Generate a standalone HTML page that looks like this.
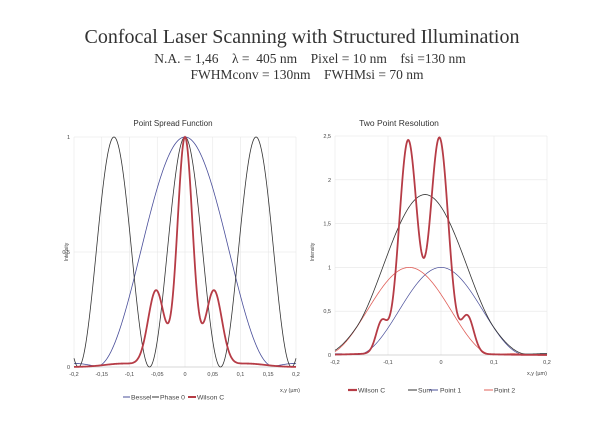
<!DOCTYPE html>
<html><head><meta charset="utf-8"><style>
body{margin:0;background:#fff;width:608px;height:439px;overflow:hidden}
svg{display:block}
</style></head><body>
<svg id="s" width="608" height="439" xmlns="http://www.w3.org/2000/svg" font-family="Liberation Sans, sans-serif">
<text x="302" y="43" text-anchor="middle" font-family="Liberation Serif, serif" font-size="20" fill="#333">Confocal Laser Scanning with Structured Illumination</text>
<text x="310" y="63" text-anchor="middle" font-family="Liberation Serif, serif" font-size="13.5" fill="#333" xml:space="preserve">N.A. = 1,46    λ =  405 nm    Pixel = 10 nm    fsi =130 nm</text>
<text x="307" y="79" text-anchor="middle" font-family="Liberation Serif, serif" font-size="13.5" fill="#333" xml:space="preserve">FWHMconv = 130nm    FWHMsi = 70 nm</text>
<g id="L"></g><g id="R"></g>
<text x="173" y="126" text-anchor="middle" font-size="8" fill="#333">Point Spread Function</text>
<text x="399" y="126" text-anchor="middle" font-size="8.5" fill="#333">Two Point Resolution</text>
<text transform="translate(68,252) rotate(-90)" text-anchor="middle" font-size="5" fill="#444">Intensity</text>
<text transform="translate(314,252) rotate(-90)" text-anchor="middle" font-size="5" fill="#444">Intensity</text>
<text x="280" y="392" font-size="5.5" fill="#444">x,y (µm)</text>
<text x="527" y="375" font-size="5.5" fill="#444">x,y (µm)</text>
<g font-size="6.8" fill="#444">
<line x1="123" y1="397" x2="130" y2="397" stroke="#4a4f9a" stroke-width="1"/><text x="131" y="399.5">Bessel</text>
<line x1="152" y1="397" x2="159" y2="397" stroke="#333" stroke-width="1"/><text x="160" y="399.5">Phase 0</text>
<line x1="188" y1="397" x2="196" y2="397" stroke="#b63c46" stroke-width="2"/><text x="197" y="399.5">Wilson C</text>
<line x1="348" y1="390" x2="357" y2="390" stroke="#b63c46" stroke-width="2.2"/><text x="358" y="392.5">Wilson C</text>
<line x1="408" y1="390" x2="417" y2="390" stroke="#333"/><text x="418" y="392.5">Sum</text>
<line x1="429" y1="390" x2="438" y2="390" stroke="#4a4f9a"/><text x="440" y="392.5">Point 1</text>
<line x1="484" y1="390" x2="493" y2="390" stroke="#e0605a"/><text x="494" y="392.5">Point 2</text>
</g>
</svg>
<script>
const NS="http://www.w3.org/2000/svg";
function el(p,t,a,txt){const e=document.createElementNS(NS,t);for(const k in a)e.setAttribute(k,a[k]);if(txt!==undefined)e.textContent=txt;p.appendChild(e);return e;}
const g=(x,c,w)=>Math.exp(-4*Math.LN2*(x-c)*(x-c)/(w*w));
const bessel=x=>{const a=Math.abs(x);return (a<0.16?Math.pow(Math.cos(Math.PI*x/0.32),2):0)+0.015*g(a,0.195,0.05);};
const phase=x=>Math.pow(Math.cos(Math.PI*x/0.128),2);
const wil=x=>g(x,0,0.032)+0.33*g(Math.abs(x),0.052,0.034)+0.015*g(Math.abs(x),0.11,0.08);
const p1=x=>bessel(x), p2=x=>bessel(x+0.06), sum=x=>p1(x)+p2(x);
const wil2=x=>2.42*g(x,-0.062,0.04)+2.45*g(x,-0.003,0.04)+0.35*g(x,-0.112,0.025)+0.42*g(x,0.05,0.028)+0.03*g(x,-0.04,0.2);
function chart(id,x0,x1,y0,y1,ymax,xt,yt,series){
 const G=document.getElementById(id);
 const X=v=>x0+(v+0.2)/0.4*(x1-x0), Y=v=>y0-(v/ymax)*(y0-y1);
 xt.forEach(t=>{el(G,'line',{x1:X(t),x2:X(t),y1:y1,y2:y0,stroke:'#e6e6e6','stroke-width':0.6});
  el(G,'text',{x:X(t),y:y0+9,'text-anchor':'middle','font-size':5.5,fill:'#444'},t.toFixed(t==0?0:(Math.abs(t*100)%10?2:1)).replace('.',','));});
 yt.forEach(t=>{el(G,'line',{x1:x0,x2:x1,y1:Y(t),y2:Y(t),stroke:'#e6e6e6','stroke-width':0.6});
  el(G,'text',{x:x0-4,y:Y(t)+2,'text-anchor':'end','font-size':5.5,fill:'#444'},String(t).replace('.',','));});
 el(G,'line',{x1:x0,x2:x1,y1:y0,y2:y0,stroke:'#bbb','stroke-width':0.6});
 series.forEach(([f,c,w])=>{let d='';for(let i=0;i<=400;i++){const v=-0.2+i*0.001;d+=(i?'L':'M')+X(v).toFixed(2)+','+Y(Math.max(0,f(v))).toFixed(2);}
  el(G,'path',{d:d,fill:'none',stroke:c,'stroke-width':w});});
}
chart('L',74,296,367,137,1,[-0.2,-0.15,-0.1,-0.05,0,0.05,0.1,0.15,0.2],[0,0.5,1],[[bessel,'#4a4f9a',0.8],[phase,'#333',0.8],[wil,'#b63c46',1.8]]);
chart('R',335,547,355,136,2.5,[-0.2,-0.1,0,0.1,0.2],[0,0.5,1,1.5,2,2.5],[[p1,'#4a4f9a',0.7],[p2,'#e0605a',0.8],[sum,'#333',0.8],[wil2,'#b63c46',1.8]]);
</script>
</body></html>
